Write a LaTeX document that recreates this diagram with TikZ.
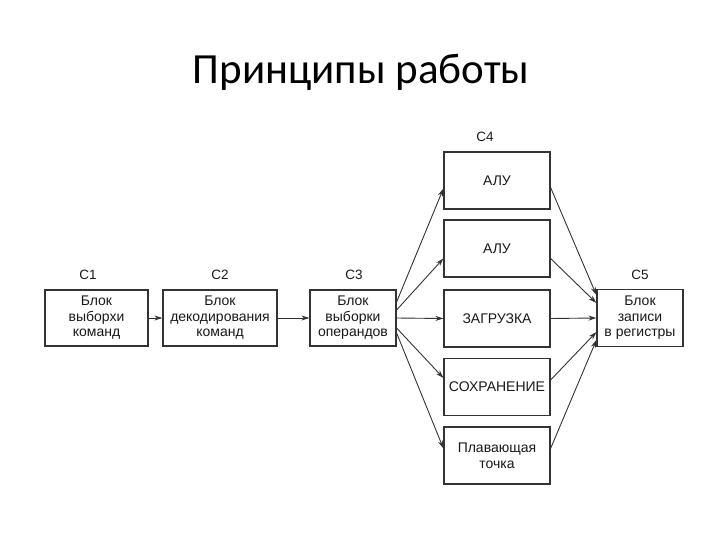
\documentclass[tikz,border=0pt]{standalone}
\usepackage{fontspec}
\setmainfont{Liberation Sans}
\newfontfamily\titlefont{Carlito}
\usetikzlibrary{arrows.meta}
\begin{document}
\begin{tikzpicture}[x=1pt,y=-1pt,
  blk/.style={draw=black!80,line width=1.2pt,fill=white,align=center,
    font=\fontsize{14}{15.5}\selectfont,text=black!90,inner sep=0pt},
  lbl/.style={font=\fontsize{13.5}{14}\selectfont,text=black!90},
  conn/.style={draw=black!80,line width=0.9pt,-{Stealth[length=8pt,width=5pt]}}]
\useasboundingbox (0,0) rectangle (720,540);
\node[font=\titlefont\fontsize{43}{48}\selectfont] (title) at (361,72) {Принципы работы};
% stage 1-3
\node[blk,minimum width=103pt,minimum height=56pt] (c1) at (96.5,318) {Блок\\выборхи\\команд};
\node[blk,minimum width=114pt,minimum height=56pt] (c2) at (220,318) {Блок\\декодирования\\команд};
\node[blk,minimum width=86pt,minimum height=56pt] (c3) at (353,318) {Блок\\выборки\\операндов};
% stage 4
\node[blk,minimum width=106pt,minimum height=57pt] (alu1) at (497,180.5) {АЛУ};
\node[blk,minimum width=106pt,minimum height=57pt] (alu2) at (497,248.5) {АЛУ};
\node[blk,minimum width=106pt,minimum height=57pt] (load) at (497,318.5) {ЗАГРУЗКА};
\node[blk,minimum width=106pt,minimum height=57pt] (store) at (497,387) {СОХРАНЕНИЕ};
\node[blk,minimum width=106pt,minimum height=57pt] (fp) at (497,455.5) {Плавающая\\точка};
% stage 5
\node[blk,minimum width=86pt,minimum height=57pt] (c5) at (640,318) {Блок\\записи\\в регистры};
% labels
\node[lbl] (l1) at (88,275) {C1};
\node[lbl] (l2) at (220,275) {C2};
\node[lbl] (l3) at (354,275) {C3};
\node[lbl] (l4) at (485,137) {C4};
\node[lbl] (l5) at (640,275) {C5};
% connectors
\draw[conn] (c1) -- (c2);
\draw[conn] (c2) -- (c3);
\draw[conn] ([yshift=16pt]c3.east) -- ([yshift=-8pt]alu1.west);
\draw[conn] ([yshift=8pt]c3.east) -- ([yshift=-10pt]alu2.west);
\draw[conn] (c3.east) -- (load.west);
\draw[conn] ([yshift=-10pt]c3.east) -- ([yshift=9pt]store.west);
\draw[conn] ([yshift=-15pt]c3.east) -- ([yshift=7pt]fp.west);
\draw[conn] ([yshift=-7pt]alu1.east) -- ([yshift=23pt]c5.west);
\draw[conn] ([yshift=-10pt]alu2.east) -- ([yshift=15pt]c5.west);
\draw[conn] (load.east) -- (c5.west);
\draw[conn] ([yshift=7pt]store.east) -- ([yshift=-14pt]c5.west);
\draw[conn] ([yshift=7pt]fp.east) -- ([yshift=-22pt]c5.west);
\end{tikzpicture}
\end{document}
